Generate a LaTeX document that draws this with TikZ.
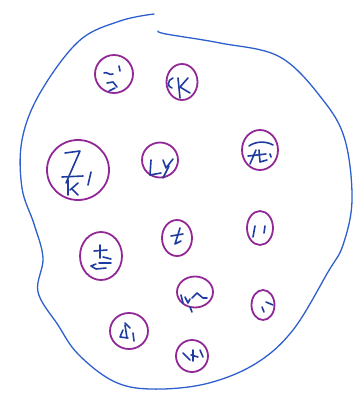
\documentclass[tikz,border=0pt]{standalone}
\usetikzlibrary{shapes.geometric}

\definecolor{penblue}{RGB}{45,95,205}
\definecolor{penpurple}{RGB}{145,40,150}
\definecolor{penink}{RGB}{30,60,160}

\begin{document}
\begin{tikzpicture}[
  x=1pt, y=-1pt,
  ring/.style={ellipse, draw=penpurple, line width=1.8pt, inner sep=0pt},
  ink/.style={draw=penink, line width=1.6pt, line cap=round, line join=round},
  blob/.style={draw=penblue, line width=1.3pt, line cap=round},
]
\useasboundingbox (0,0) rectangle (358,400);

% === outer set ===
\draw[blob] plot[smooth, tension=0.6] coordinates {
  (158,31) (166,34) (220,43) (280,57) (323,100) (345,140) (352,200)
  (343,245) (328,272) (293,330) (255,364) (205,384) (150,389)
  (113,381) (78,354) (58,325) (38,292) (43,258) (34,224) (22,188)
  (22,140) (40,93) (79,41) (120,21) (154,14)};

% === elements ===
\node[ring, minimum width=38pt, minimum height=38pt] (r1) at (114,74) {};
\node[ring, minimum width=31pt, minimum height=36pt] (r2) at (182,82) {};
\node[ring, minimum width=62pt, minimum height=60pt] (r3) at (78,170) {};
\node[ring, minimum width=36pt, minimum height=35pt] (r4) at (160,160) {};
\node[ring, minimum width=36pt, minimum height=40pt] (r5) at (260,150) {};
\node[ring, minimum width=26pt, minimum height=34pt] (r6) at (260,228) {};
\node[ring, minimum width=23pt, minimum height=30pt] (r7) at (263,305) {};
\node[ring, minimum width=42pt, minimum height=48pt] (r8) at (101,256) {};
\node[ring, minimum width=30pt, minimum height=36pt] (r9) at (177,238) {};
\node[ring, minimum width=36pt, minimum height=31pt] (r10) at (195,292) {};
\node[ring, minimum width=38pt, minimum height=36pt] (r11) at (129,331) {};
\node[ring, minimum width=32pt, minimum height=32pt] (r12) at (192,356) {};

% === marks inside the elements ===
% r1
\draw[ink] (104,73) .. controls (107,71) and (109,76) .. (113,74);
\draw[ink] (119,66) -- (120,71);
\draw[ink] (107,83) -- (113,82) -- (117,87);
\draw[ink] (109,91) -- (115,88);
% r2
\draw[ink] (173,78) .. controls (167,80) and (167,87) .. (172,88);
\draw[ink] (178,78) -- (180,98);
\draw[ink] (188,78) -- (180,87) -- (190,93);
% r3
\draw[ink] (65,153) -- (80,151) -- (66,183);
\draw[ink] (62,177) -- (83,176);
\draw[ink] (68,180) -- (68,195);
\draw[ink] (70,190) -- (78,183);
\draw[ink] (72,189) -- (78,195);
\draw[ink] (91,172) -- (88,185);
% r4
\draw[ink] (151,160) -- (150,175) -- (161,173);
\draw[ink] (163,160) -- (166,168) -- (173,159);
\draw[ink] (169,166) -- (163,178);
% r5
\draw[ink] (249,146) .. controls (256,141) and (266,141) .. (273,145);
\draw[ink] (248,156) -- (266,154);
\draw[ink] (256,150) -- (250,164);
\draw[ink] (259,150) -- (260,162) -- (267,160);
\draw[ink] (270,154) -- (271,157);
% r6
\draw[ink] (255,226) -- (253,237);
\draw[ink] (265,226) -- (264,233);
% r7
\draw[ink] (262,307) -- (264,312);
\draw[ink] (266,302) -- (273,305);
% r8
\draw[ink] (94,251) -- (107,250);
\draw[ink] (100,245) -- (100,258);
\draw[ink] (103,257) -- (111,259);
\draw[ink] (99,263) -- (111,263);
\draw[ink] (96,264) -- (91,266) -- (96,269) -- (106,268);
% r9
\draw[ink] (171,236) -- (183,234);
\draw[ink] (180,228) -- (175,244) -- (181,241);
% r10
\draw[ink] (181,295) -- (183,303);
\draw[ink] (185,297) -- (188,303) -- (190,299);
\draw[ink] (192,298) -- (197,293) -- (203,298) -- (207,298);
\draw[ink] (190,307) -- (192,312);
% r11
\draw[ink] (125,323) -- (130,328);
\draw[ink] (125,325) -- (127,338);
\draw[ink] (123,330) -- (120,337) -- (128,338);
\draw[ink] (133,333) -- (134,341);
% r12
\draw[ink] (183,353) -- (190,360);
\draw[ink] (193,350) -- (193,361);
\draw[ink] (191,355) -- (198,357);
\draw[ink] (200,350) -- (203,357);
\end{tikzpicture}
\end{document}
